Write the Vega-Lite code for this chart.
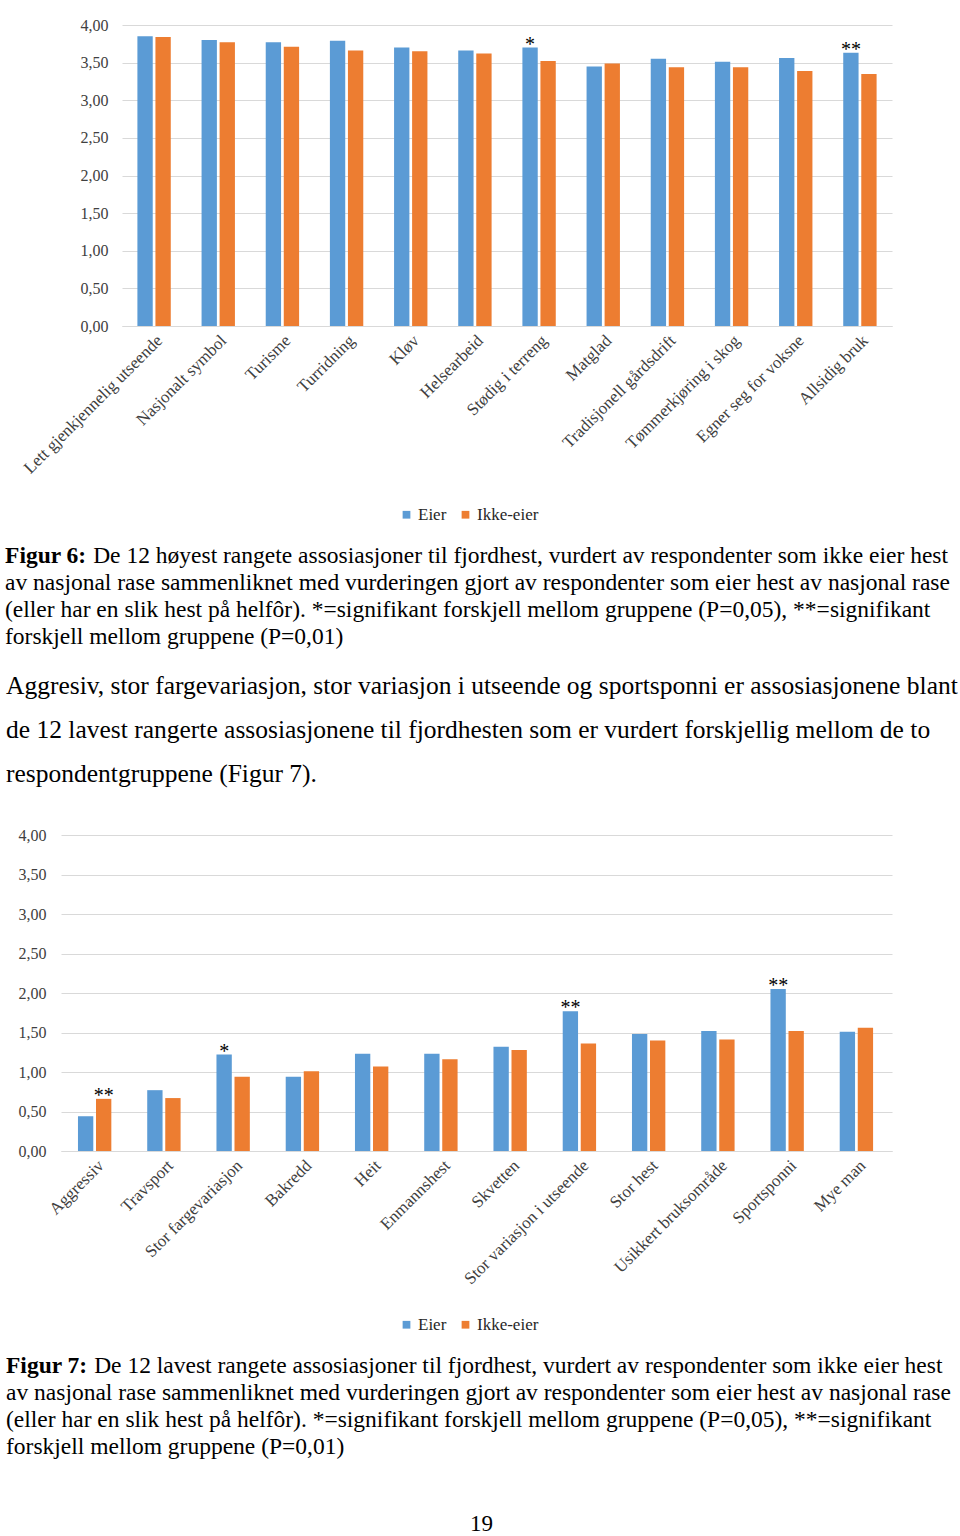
{
  "$schema": "https://vega.github.io/schema/vega-lite/v6.json",
  "background": "white",
  "padding": {"left": 5, "top": 17, "right": 0, "bottom": 0},
  "config": {
    "font": "Liberation Serif",
    "view": {"stroke": null},
    "axis": {"labelFont": "Liberation Serif", "labelFontSize": 16, "labelColor": "#404040", "ticks": false, "domain": false, "title": null},
    "title": {"font": "Liberation Serif", "color": "black", "subtitleFont": "Liberation Serif", "subtitleColor": "black"}
  },
  "datasets": {
    "top": [
      {"item": "Lett gjenkjennelig utseende", "group": "Eier", "value": 3.85, "sig": ""},
      {"item": "Lett gjenkjennelig utseende", "group": "Ikke-eier", "value": 3.84, "sig": ""},
      {"item": "Nasjonalt symbol", "group": "Eier", "value": 3.80, "sig": ""},
      {"item": "Nasjonalt symbol", "group": "Ikke-eier", "value": 3.77, "sig": ""},
      {"item": "Turisme", "group": "Eier", "value": 3.77, "sig": ""},
      {"item": "Turisme", "group": "Ikke-eier", "value": 3.71, "sig": ""},
      {"item": "Turridning", "group": "Eier", "value": 3.79, "sig": ""},
      {"item": "Turridning", "group": "Ikke-eier", "value": 3.66, "sig": ""},
      {"item": "Kløv", "group": "Eier", "value": 3.70, "sig": ""},
      {"item": "Kløv", "group": "Ikke-eier", "value": 3.65, "sig": ""},
      {"item": "Helsearbeid", "group": "Eier", "value": 3.66, "sig": ""},
      {"item": "Helsearbeid", "group": "Ikke-eier", "value": 3.62, "sig": ""},
      {"item": "Stødig i terreng", "group": "Eier", "value": 3.70, "sig": "*"},
      {"item": "Stødig i terreng", "group": "Ikke-eier", "value": 3.52, "sig": ""},
      {"item": "Matglad", "group": "Eier", "value": 3.45, "sig": ""},
      {"item": "Matglad", "group": "Ikke-eier", "value": 3.49, "sig": ""},
      {"item": "Tradisjonell gårdsdrift", "group": "Eier", "value": 3.55, "sig": ""},
      {"item": "Tradisjonell gårdsdrift", "group": "Ikke-eier", "value": 3.44, "sig": ""},
      {"item": "Tømmerkjøring i skog", "group": "Eier", "value": 3.51, "sig": ""},
      {"item": "Tømmerkjøring i skog", "group": "Ikke-eier", "value": 3.44, "sig": ""},
      {"item": "Egner seg for voksne", "group": "Eier", "value": 3.56, "sig": ""},
      {"item": "Egner seg for voksne", "group": "Ikke-eier", "value": 3.39, "sig": ""},
      {"item": "Allsidig bruk", "group": "Eier", "value": 3.63, "sig": "**"},
      {"item": "Allsidig bruk", "group": "Ikke-eier", "value": 3.35, "sig": ""}
    ],
    "bottom": [
      {"item": "Aggressiv", "group": "Eier", "value": 0.44, "sig": ""},
      {"item": "Aggressiv", "group": "Ikke-eier", "value": 0.66, "sig": "**"},
      {"item": "Travsport", "group": "Eier", "value": 0.77, "sig": ""},
      {"item": "Travsport", "group": "Ikke-eier", "value": 0.67, "sig": ""},
      {"item": "Stor fargevariasjon", "group": "Eier", "value": 1.22, "sig": "*"},
      {"item": "Stor fargevariasjon", "group": "Ikke-eier", "value": 0.94, "sig": ""},
      {"item": "Bakredd", "group": "Eier", "value": 0.94, "sig": ""},
      {"item": "Bakredd", "group": "Ikke-eier", "value": 1.01, "sig": ""},
      {"item": "Heit", "group": "Eier", "value": 1.23, "sig": ""},
      {"item": "Heit", "group": "Ikke-eier", "value": 1.07, "sig": ""},
      {"item": "Enmannshest", "group": "Eier", "value": 1.23, "sig": ""},
      {"item": "Enmannshest", "group": "Ikke-eier", "value": 1.16, "sig": ""},
      {"item": "Skvetten", "group": "Eier", "value": 1.32, "sig": ""},
      {"item": "Skvetten", "group": "Ikke-eier", "value": 1.28, "sig": ""},
      {"item": "Stor variasjon i utseende", "group": "Eier", "value": 1.77, "sig": "**"},
      {"item": "Stor variasjon i utseende", "group": "Ikke-eier", "value": 1.36, "sig": ""},
      {"item": "Stor hest", "group": "Eier", "value": 1.48, "sig": ""},
      {"item": "Stor hest", "group": "Ikke-eier", "value": 1.40, "sig": ""},
      {"item": "Usikkert bruksområde", "group": "Eier", "value": 1.52, "sig": ""},
      {"item": "Usikkert bruksområde", "group": "Ikke-eier", "value": 1.41, "sig": ""},
      {"item": "Sportsponni", "group": "Eier", "value": 2.05, "sig": "**"},
      {"item": "Sportsponni", "group": "Ikke-eier", "value": 1.52, "sig": ""},
      {"item": "Mye man", "group": "Eier", "value": 1.51, "sig": ""},
      {"item": "Mye man", "group": "Ikke-eier", "value": 1.56, "sig": ""}
    ]
  },
  "title": {"text": "19", "orient": "bottom", "anchor": "middle", "fontSize": 23, "fontWeight": "normal", "offset": 54},
  "resolve": {"scale": {"color": "independent"}, "legend": {"color": "independent"}},
  "spacing": 24,
  "vconcat": [
    {
      "data": {"name": "top"},
      "width": 831,
      "height": 301,
      "title": {
        "text": "Figur 6:",
        "subtitle": [
          "\u200b\u00a0\u00a0\u00a0\u00a0\u00a0\u00a0\u00a0\u00a0\u00a0\u00a0\u00a0\u00a0\u00a0\u00a0\u00a0De 12 høyest rangete assosiasjoner til fjordhest, vurdert av respondenter som ikke eier hest",
          "av nasjonal rase sammenliknet med vurderingen gjort av respondenter som eier hest av nasjonal rase",
          "(eller har en slik hest på helfôr). *=signifikant forskjell mellom gruppene (P=0,05), **=signifikant",
          "forskjell mellom gruppene (P=0,01)"
        ],
        "orient": "bottom", "anchor": "start", "fontSize": 23.5, "fontWeight": "bold",
        "subtitleFontSize": 23.5, "subtitleLineHeight": 27, "subtitlePadding": -23.5, "offset": 21, "dx": -15
      },
      "encoding": {
        "x": {"field": "item", "type": "nominal", "sort": null,
              "scale": {"paddingInner": 0.48, "paddingOuter": 0.24, "range": [61, 831]},
              "axis": {"labelAngle": -45, "labelFontSize": 17, "labelLimit": 300, "domain": true, "domainColor": "#d9d9d9", "labelPadding": 6}},
        "xOffset": {"field": "group", "type": "nominal", "sort": ["Eier", "Ikke-eier"], "scale": {"paddingInner": 0.15}},
        "y": {"field": "value", "type": "quantitative", "scale": {"domain": [0, 4]},
              "axis": {"values": [0, 0.5, 1, 1.5, 2, 2.5, 3, 3.5, 4], "grid": true, "gridColor": "#d9d9d9", "offset": -61,
                       "labelExpr": "replace(format(datum.value, '.2f'), '.', ',')", "labelPadding": 14}}
      },
      "layer": [
        {"mark": {"type": "bar"},
         "encoding": {"color": {"field": "group", "type": "nominal",
           "scale": {"domain": ["Eier", "Ikke-eier"], "range": ["#5b9bd5", "#ed7d31"]},
           "legend": {"orient": "none", "legendX": 337, "legendY": 481, "direction": "horizontal", "title": null, "symbolType": "square",
                      "symbolSize": 60, "symbolStrokeWidth": 0, "labelFontSize": 17, "labelFont": "Liberation Serif",
                      "labelColor": "#262626", "columnPadding": 10, "labelOffset": 3}}}},
        {"mark": {"type": "text", "baseline": "alphabetic", "dy": 3, "fontSize": 20, "color": "black"},
         "encoding": {"text": {"field": "sig"}}}
      ]
    },
    {
      "title": {
        "text": [
          "Aggresiv, stor fargevariasjon, stor variasjon i utseende og sportsponni er assosiasjonene blant",
          "de 12 lavest rangerte assosiasjonene til fjordhesten som er vurdert forskjellig mellom de to",
          "respondentgruppene (Figur 7)."
        ],
        "orient": "top", "anchor": "start", "fontSize": 25.5, "fontWeight": "normal", "lineHeight": 44, "offset": 40, "dx": 0
      },
      "resolve": {"scale": {"color": "independent"}, "legend": {"color": "independent"}},
      "vconcat": [
        {
          "data": {"name": "bottom"},
          "width": 831,
          "height": 316,
          "title": {
            "text": "Figur 7:",
            "subtitle": [
              "\u200b\u00a0\u00a0\u00a0\u00a0\u00a0\u00a0\u00a0\u00a0\u00a0\u00a0\u00a0\u00a0\u00a0\u00a0\u00a0De 12 lavest rangete assosiasjoner til fjordhest, vurdert av respondenter som ikke eier hest",
              "av nasjonal rase sammenliknet med vurderingen gjort av respondenter som eier hest av nasjonal rase",
              "(eller har en slik hest på helfôr). *=signifikant forskjell mellom gruppene (P=0,05), **=signifikant",
              "forskjell mellom gruppene (P=0,01)"
            ],
            "orient": "bottom", "anchor": "start", "fontSize": 23.5, "fontWeight": "bold",
            "subtitleFontSize": 23.5, "subtitleLineHeight": 27, "subtitlePadding": -23.5, "offset": 21, "dx": -12
          },
          "encoding": {
            "x": {"field": "item", "type": "nominal", "sort": null,
                  "scale": {"paddingInner": 0.49, "paddingOuter": 0.245},
                  "axis": {"labelAngle": -45, "labelFontSize": 17, "labelLimit": 300, "domain": true, "domainColor": "#d9d9d9", "labelPadding": 6}},
            "xOffset": {"field": "group", "type": "nominal", "sort": ["Eier", "Ikke-eier"], "scale": {"paddingInner": 0.2}},
            "y": {"field": "value", "type": "quantitative", "scale": {"domain": [0, 4]},
                  "axis": {"values": [0, 0.5, 1, 1.5, 2, 2.5, 3, 3.5, 4], "grid": true, "gridColor": "#d9d9d9",
                           "labelExpr": "replace(format(datum.value, '.2f'), '.', ',')", "labelPadding": 15}}
          },
          "layer": [
            {"mark": {"type": "bar"},
             "encoding": {"color": {"field": "group", "type": "nominal",
               "scale": {"domain": ["Eier", "Ikke-eier"], "range": ["#5b9bd5", "#ed7d31"]},
               "legend": {"orient": "none", "legendX": 337, "legendY": 481, "direction": "horizontal", "title": null, "symbolType": "square",
                          "symbolSize": 60, "symbolStrokeWidth": 0, "labelFontSize": 17, "labelFont": "Liberation Serif",
                          "labelColor": "#262626", "columnPadding": 10, "labelOffset": 3}}}},
            {"mark": {"type": "text", "baseline": "alphabetic", "dy": 3, "fontSize": 20, "color": "black"},
             "encoding": {"text": {"field": "sig"}}}
          ]
        }
      ]
    }
  ]
}
